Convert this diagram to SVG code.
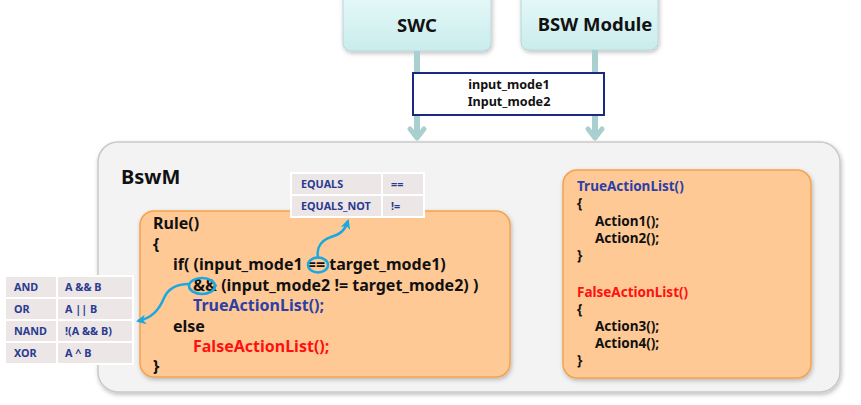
<svg xmlns="http://www.w3.org/2000/svg" width="861" height="405" viewBox="0 0 861 405">
<defs>
  <linearGradient id="cyan" x1="0" y1="0" x2="0" y2="1">
    <stop offset="0" stop-color="#eafafa"/>
    <stop offset="1" stop-color="#c9ecec"/>
  </linearGradient>
  <filter id="sh" x="-10%" y="-10%" width="120%" height="130%">
    <feDropShadow dx="1" dy="2" stdDeviation="2" flood-color="#000" flood-opacity="0.25"/>
  </filter>
  <marker id="blue" viewBox="0 0 10 10" refX="8" refY="5" markerWidth="4" markerHeight="4" orient="auto" markerUnits="strokeWidth">
    <path d="M0,0 L10,5 L0,10 L3,5 Z" fill="#1ba7e0"/>
  </marker>
</defs>
<style>
  text { font-family: "Noto Sans", "Open Sans", sans-serif; font-weight: bold; }
  .code { font-size: 16px; fill: #111; }
  .code2 { font-size: 13.5px; fill: #111; }
  .tb { font-size: 10.8px; fill: #2a3a90; }
  .cell { fill: #ece6e6; stroke: #fff; stroke-width: 2; }
  .orange { fill: #fec995; stroke: #f5a24c; stroke-width: 1.5; }
  .flow { stroke: #a9cfcf; stroke-width: 6; fill: none; }
  .head { stroke: #a9cfcf; stroke-width: 5; fill: none; stroke-linecap: round; stroke-linejoin: round; }
  .curve { stroke: #1ba7e0; stroke-width: 2.5; fill: none; }
  .ring { stroke: #1ba7e0; stroke-width: 2.5; fill: none; }
</style>

<g id="bswm">
  <rect x="98" y="142" width="742" height="250" rx="20" fill="#f3f3f3" stroke="#c9c9c9" stroke-width="1.5" filter="url(#sh)"/>
  <text x="121" y="184" font-size="20" fill="#111">BswM</text>
</g>

<g id="swc">
  <rect x="343" y="-12" width="148" height="63" rx="8" fill="url(#cyan)" stroke="#b9d6d6" stroke-width="1" filter="url(#sh)"/>
  <text x="417" y="32" font-size="18.5" text-anchor="middle" fill="#111">SWC</text>
</g>
<g id="bsw-module">
  <rect x="521" y="-12" width="137" height="62" rx="8" fill="url(#cyan)" stroke="#b9d6d6" stroke-width="1" filter="url(#sh)"/>
  <text x="595" y="31" font-size="18.5" text-anchor="middle" fill="#111">BSW Module</text>
</g>

<g id="rule">
  <rect class="orange" x="140" y="211" width="370" height="166" rx="14" filter="url(#sh)"/>
  <text class="code" x="153" y="229">Rule()</text>
  <text class="code" x="153" y="250">{</text>
  <text class="code" x="173" y="270">if( (input_mode1 == target_mode1)</text>
  <text class="code" x="193" y="291">&amp;&amp; (input_mode2 != target_mode2) )</text>
  <text class="code" x="193" y="311" style="fill:#2b3fa6">TrueActionList();</text>
  <text class="code" x="173" y="332">else</text>
  <text class="code" x="193" y="352" style="fill:#ff1010">FalseActionList();</text>
  <text class="code" x="153" y="372">}</text>
</g>

<g id="action-lists">
  <rect class="orange" x="563" y="170" width="248" height="208" rx="14" filter="url(#sh)"/>
  <text class="code2" x="577" y="191" style="fill:#2b3fa6">TrueActionList()</text>
  <text class="code2" x="577" y="208">{</text>
  <text class="code2" x="595" y="226">Action1();</text>
  <text class="code2" x="595" y="243">Action2();</text>
  <text class="code2" x="577" y="260">}</text>
  <text class="code2" x="577" y="297" style="fill:#ff1010">FalseActionList()</text>
  <text class="code2" x="577" y="314">{</text>
  <text class="code2" x="595" y="331">Action3();</text>
  <text class="code2" x="595" y="348">Action4();</text>
  <text class="code2" x="577" y="365">}</text>
</g>

<g id="equals-table">
  <rect class="cell" x="291" y="173" width="91" height="22"/>
  <rect class="cell" x="382" y="173" width="42" height="22"/>
  <rect class="cell" x="291" y="195" width="91" height="22"/>
  <rect class="cell" x="382" y="195" width="42" height="22"/>
  <text class="tb" x="301" y="188">EQUALS</text>
  <text class="tb" x="391" y="188">==</text>
  <text class="tb" x="301" y="210">EQUALS_NOT</text>
  <text class="tb" x="391" y="210">!=</text>
</g>

<g id="logic-table">
  <rect class="cell" x="5" y="276" width="52" height="22"/>
  <rect class="cell" x="57" y="276" width="76" height="22"/>
  <rect class="cell" x="5" y="298" width="52" height="22"/>
  <rect class="cell" x="57" y="298" width="76" height="22"/>
  <rect class="cell" x="5" y="320" width="52" height="22"/>
  <rect class="cell" x="57" y="320" width="76" height="22"/>
  <rect class="cell" x="5" y="342" width="52" height="22"/>
  <rect class="cell" x="57" y="342" width="76" height="22"/>
  <text class="tb" x="14" y="291">AND</text>
  <text class="tb" x="65" y="291">A &amp;&amp; B</text>
  <text class="tb" x="14" y="313">OR</text>
  <text class="tb" x="65" y="313">A || B</text>
  <text class="tb" x="14" y="335">NAND</text>
  <text class="tb" x="65" y="335">!(A &amp;&amp; B)</text>
  <text class="tb" x="14" y="357">XOR</text>
  <text class="tb" x="65" y="357">A ^ B</text>
</g>

<g id="connectors">
  <line class="flow" x1="417" y1="51" x2="417" y2="137"/>
  <polyline class="head" points="410,129 417,138 424,129"/>
  <line class="flow" x1="595" y1="50" x2="595" y2="137"/>
  <polyline class="head" points="588,129 595,138 602,129"/>
  <ellipse class="ring" cx="318" cy="265" rx="10" ry="7.5"/>
  <ellipse class="ring" cx="202" cy="286" rx="13" ry="8"/>
  <path class="curve" d="M318,257 C316,247 322,240 331,237 C341,234 345,230 348,221" marker-end="url(#blue)"/>
  <path class="curve" d="M189,284 C176,284 168,289 164,298 C159,310 152,318 138,321" marker-end="url(#blue)"/>
</g>

<g id="inputs">
  <rect x="413" y="73" width="191" height="42" fill="#fff" stroke="#1a2a80" stroke-width="2"/>
  <text x="509" y="89" font-size="12.6" text-anchor="middle" fill="#111">input_mode1</text>
  <text x="509" y="106" font-size="12.6" text-anchor="middle" fill="#111">Input_mode2</text>
</g>
</svg>
